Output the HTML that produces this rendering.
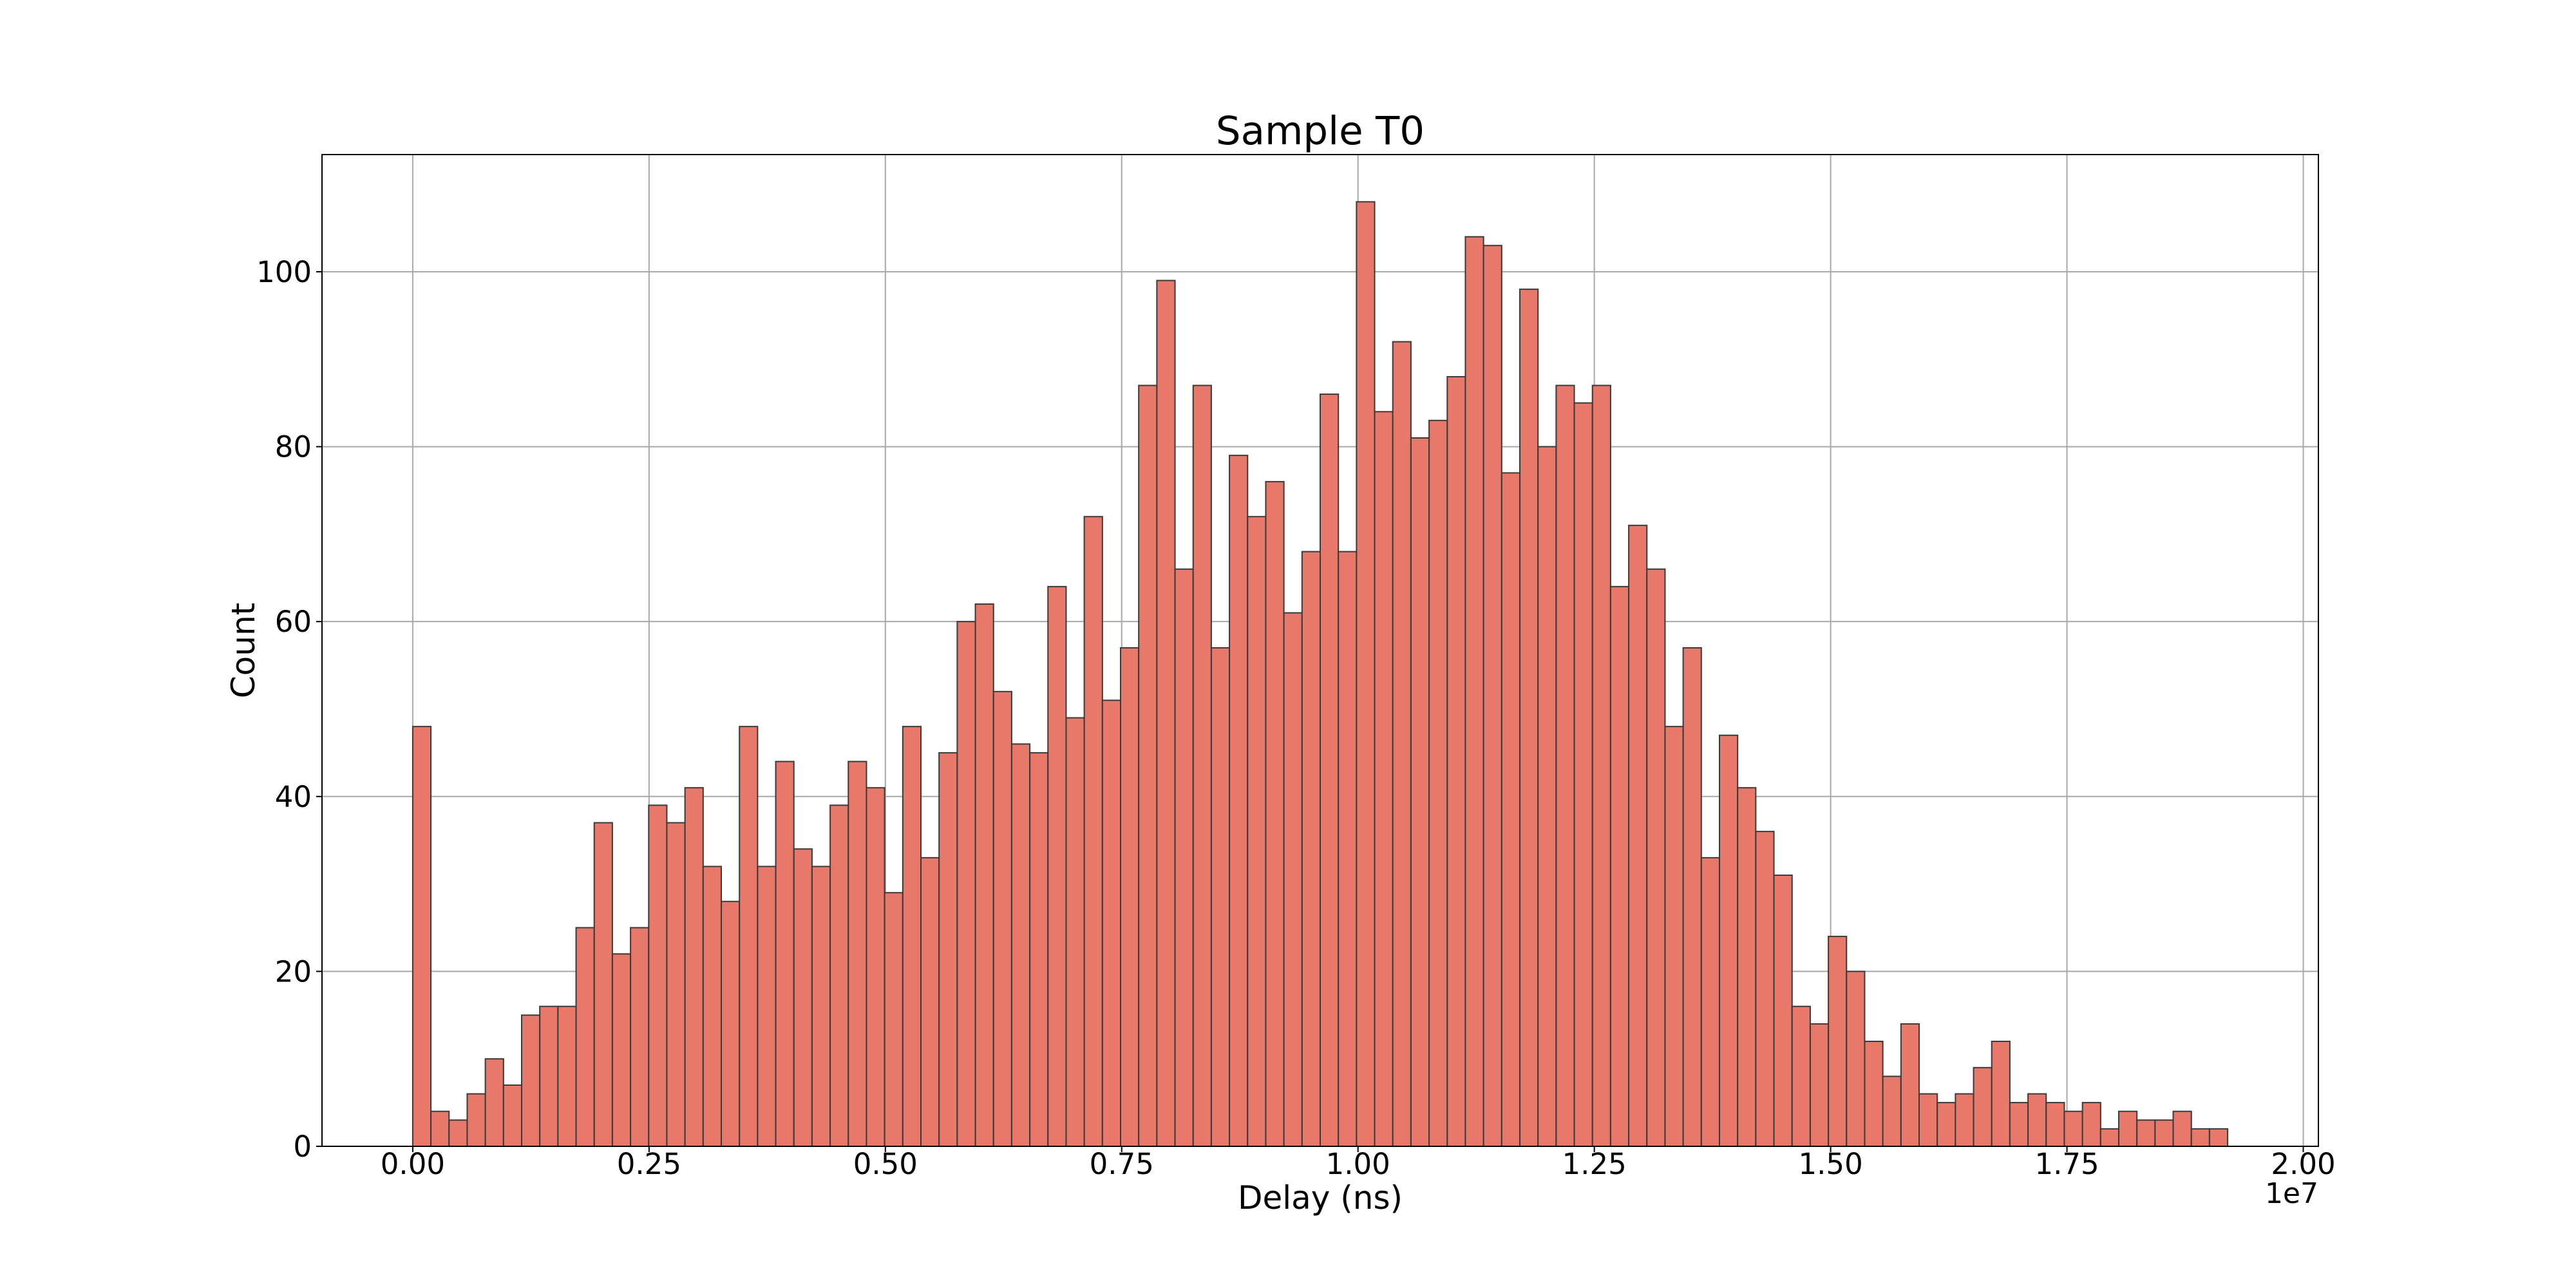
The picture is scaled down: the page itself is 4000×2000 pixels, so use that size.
<!DOCTYPE html>
<html><head><meta charset="utf-8"><style>
html,body{margin:0;padding:0;background:#fff;}
svg{display:block;font-family:"DejaVu Sans","Liberation Sans",sans-serif;}
</style></head><body>
<svg id="chart" width="4000" height="2000" viewBox="0 0 4000 2000">
<rect x="0" y="0" width="4000" height="2000" fill="#fff"/>
<g id="grid"></g>
<g id="bars"></g>
<rect x="500" y="240" width="3100" height="1540" fill="none" stroke="#000" stroke-width="2"/>
<g id="xticks"></g>
<g id="yticks"></g>
<text x="2050" y="224" font-size="61" text-anchor="middle">Sample T0</text>
<text x="2050" y="1877" font-size="50" text-anchor="middle">Delay (ns)</text>
<text x="395" y="1010" font-size="50" text-anchor="middle" transform="rotate(-90 395 1010)">Count</text>
<text x="3600" y="1868" font-size="44" text-anchor="end">1e7</text>
</svg>
<script>
const counts = [48,4,3,6,10,7,15,16,16,25,37,22,25,39,37,41,32,28,48,32,44,34,32,39,44,41,29,48,33,45,60,62,52,46,45,64,49,72,51,57,87,99,66,87,57,79,72,76,61,68,86,68,108,84,92,81,83,88,104,103,77,98,80,87,85,87,64,71,66,48,57,33,47,41,36,31,16,14,24,20,12,8,14,6,5,6,9,12,5,6,5,4,5,2,4,3,3,4,2,2];
const binStart = 0;
const binMax = 1.92;
const xTicks = [0,0.25,0.5,0.75,1.0,1.25,1.5,1.75,2.0];
const xTickLabels = ["0.00","0.25","0.50","0.75","1.00","1.25","1.50","1.75","2.00"];
const yTicks = [0,20,40,60,80,100];
const NS="http://www.w3.org/2000/svg";
const L=500,R=3600,T=240,B=1780;
const xmin=-0.096,xmax=2.016,ymin=0,ymax=113.4;
const X=v=>L+(v-xmin)/(xmax-xmin)*(R-L);
const Y=v=>B-(v-ymin)/(ymax-ymin)*(B-T);
function mk(tag,attrs,parent){const e=document.createElementNS(NS,tag);for(const k in attrs)e.setAttribute(k,attrs[k]);parent.appendChild(e);return e;}
const grid=document.getElementById('grid'),bars=document.getElementById('bars'),xt=document.getElementById('xticks'),yt=document.getElementById('yticks');
xTicks.forEach((t,i)=>{
  const x=X(t);
  const g=mk('line',{x1:x,x2:x,y1:T,y2:B,stroke:'#a8a8a8','stroke-width':2},grid);
  
  
  const tk=mk('line',{x1:x,x2:x,y1:B,y2:B+9,stroke:'#000','stroke-width':2},xt);
  
  
  const tx=mk('text',{x:x,y:B+43,'font-size':45,'text-anchor':'middle'},xt);
  tx.textContent=xTickLabels[i];
  
  
});
yTicks.forEach(t=>{
  const y=Y(t);
  const g=mk('line',{x1:L,x2:R,y1:y,y2:y,stroke:'#a8a8a8','stroke-width':2},grid);
  
  
  const tk=mk('line',{x1:L-9,x2:L,y1:y,y2:y,stroke:'#000','stroke-width':2},yt);
  
  
  const tx=mk('text',{x:L-16,y:y+16,'font-size':45,'text-anchor':'end'},yt);
  tx.textContent=String(t);
  
  
});
const bw=(binMax-binStart)/counts.length;
counts.forEach((c,i)=>{
  const x0=X(binStart+i*bw),x1=X(binStart+(i+1)*bw);
  const r=mk('rect',{x:x0,y:Y(c),width:x1-x0,height:Y(0)-Y(c),fill:'#e8786a',stroke:'#3a3a3a','stroke-width':2},bars);
  
  
});
</script>
</body></html>
